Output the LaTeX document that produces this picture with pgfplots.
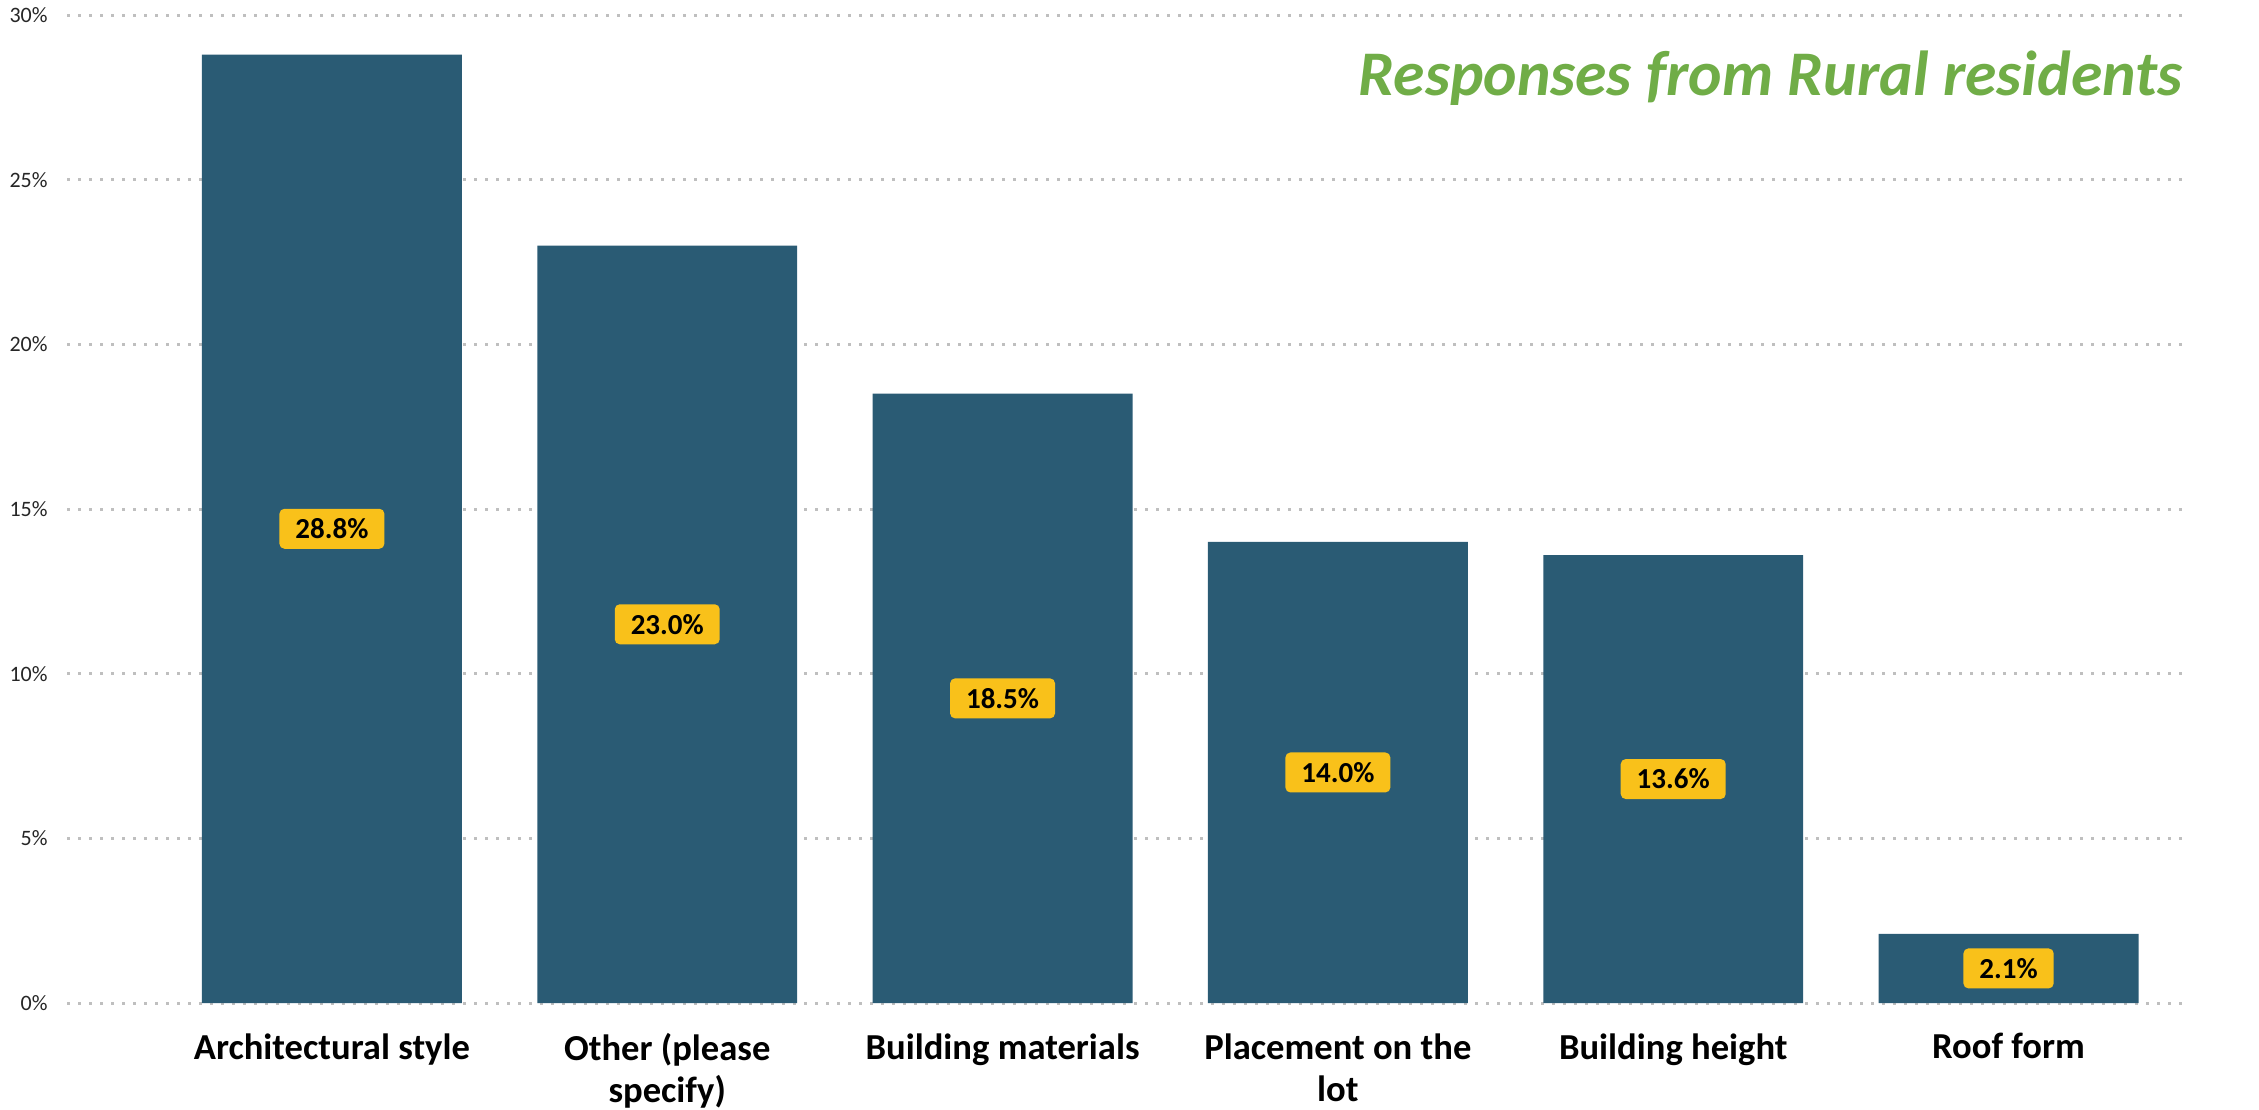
\documentclass[border=0pt]{standalone}
\usepackage{fontspec}
\setmainfont{Carlito}
\usepackage{pgfplots}
\usepackage{pgfplotstable}
\pgfplotsset{compat=1.18}

\definecolor{barblue}{HTML}{2A5B74}
\definecolor{titlegreen}{HTML}{70AD47}
\definecolor{labelgold}{HTML}{F9C11A}
\definecolor{gridgray}{HTML}{BFBFBF}
\definecolor{ticktext}{HTML}{262626}

% share of responses, in percent
\pgfplotstableread{
x v
0 28.8
1 23.0
2 18.5
3 14.0
4 13.6
5 2.1
}\responses

\begin{document}
\begin{tikzpicture}
\path[use as bounding box] (0,0) rectangle (1129.5pt,554.5pt);
\begin{axis}[
  at={(33.5pt,53pt)}, anchor=south west,
  width=1058pt, height=494pt, scale only axis,
  xmin=-0.79, xmax=5.52, ymin=0, ymax=30,
  axis line style={draw=none},
  major tick length=0pt,
  /pgf/number format/assume math mode=true,
  ymajorgrids,
  grid style={gridgray, line width=1.5pt, dash pattern=on 1.5pt off 4pt},
  ytick={0,5,10,15,20,25,30},
  yticklabels={0\%,5\%,10\%,15\%,20\%,25\%,30\%},
  yticklabel style={font=\fontsize{11}{13}\selectfont, text=ticktext, anchor=east, inner sep=0pt, xshift=-9.5pt},
  xtick={0,1,2,3,4,5},
  xticklabels={Architectural style, {Other (please\\specify)}, Building materials, {Placement on the\\lot}, Building height, Roof form},
  xticklabel style={font=\bfseries\fontsize{18.3}{21}\selectfont, text=black, align=center, anchor=north, inner sep=0pt, yshift=-15pt},
  clip=false,
]
\addplot[ybar, bar width=0.775, fill=barblue, draw=none] table[x=x, y=v] {\responses};
\addplot[draw=none, mark=none, point meta=explicit,
  nodes near coords={\pgfmathprintnumber[fixed, fixed zerofill, precision=1]{\pgfplotspointmeta}\%},
  every node near coord/.style={anchor=center, fill=labelgold, rounded corners=2.5pt,
    font=\bfseries\fontsize{14.5}{17}\selectfont, text=black,
    inner xsep=8pt, inner ysep=0pt, minimum height=20pt}]
  table[x=x, y expr=\thisrow{v}/2, meta=v] {\responses};
\node[anchor=base east, text=titlegreen, font=\bfseries\itshape\fontsize{31.8}{36}\selectfont, inner sep=0pt]
  at (axis description cs:1.0,0.919) {Responses from Rural residents};
\end{axis}
\end{tikzpicture}
\end{document}
